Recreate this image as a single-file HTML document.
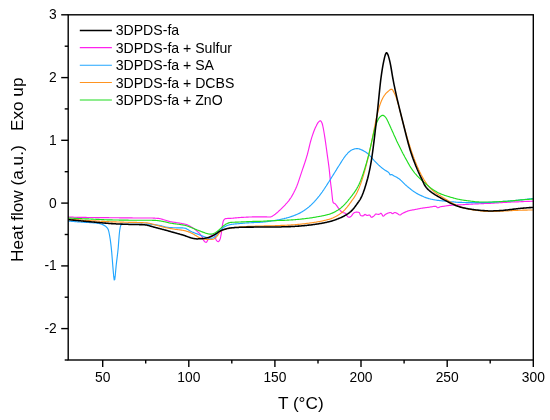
<!DOCTYPE html>
<html><head><meta charset="utf-8"><title>DSC heat flow</title>
<style>
html,body{margin:0;padding:0;background:#fff;}
svg{display:block;}
text{font-family:"Liberation Sans",sans-serif;fill:#000;}
.tk{font-size:13.8px;}
.lg{font-size:14.1px;}
.ax{font-size:17.2px;}
</style></head><body>
<svg width="550" height="420" viewBox="0 0 550 420">
<rect width="550" height="420" fill="#fff"/>


<g fill="none" stroke-linejoin="round" stroke-linecap="butt" >
<path d="M68.2,217.0 68.7,217.0 69.2,217.0 69.7,217.0 70.2,217.1 70.7,217.1 71.2,217.1 71.7,217.1 72.2,217.1 72.7,217.1 73.2,217.1 73.7,217.2 74.2,217.2 74.7,217.2 75.2,217.2 75.7,217.2 76.2,217.2 76.7,217.2 77.2,217.3 77.7,217.3 78.2,217.3 78.7,217.3 79.2,217.3 79.7,217.3 80.2,217.3 80.7,217.3 81.2,217.3 81.7,217.4 82.2,217.4 82.7,217.4 83.2,217.4 83.7,217.4 84.2,217.4 84.7,217.4 85.2,217.4 85.7,217.4 86.2,217.4 86.7,217.5 87.2,217.5 87.7,217.5 88.2,217.5 88.7,217.5 89.2,217.5 89.7,217.5 90.2,217.5 90.7,217.5 91.2,217.5 91.7,217.5 92.2,217.5 92.7,217.5 93.2,217.5 93.7,217.5 94.2,217.5 94.7,217.5 95.2,217.6 95.7,217.6 96.2,217.6 96.7,217.6 97.2,217.6 97.7,217.6 98.2,217.6 98.7,217.6 99.2,217.6 99.7,217.6 100.2,217.6 100.7,217.6 101.2,217.6 101.7,217.6 102.2,217.6 102.7,217.6 103.2,217.6 103.7,217.6 104.2,217.6 104.7,217.6 105.2,217.6 105.7,217.6 106.2,217.6 106.7,217.6 107.2,217.6 107.7,217.6 108.2,217.6 108.7,217.6 109.2,217.7 109.7,217.7 110.2,217.7 110.7,217.7 111.2,217.7 111.7,217.7 112.2,217.7 112.7,217.7 113.2,217.7 113.7,217.7 114.2,217.7 114.7,217.7 115.2,217.7 115.7,217.7 116.2,217.7 116.7,217.7 117.2,217.7 117.7,217.7 118.2,217.7 118.7,217.7 119.2,217.8 119.7,217.8 120.2,217.8 120.7,217.8 121.2,217.8 121.7,217.8 122.2,217.8 122.7,217.8 123.2,217.8 123.7,217.8 124.2,217.8 124.7,217.8 125.2,217.8 125.7,217.9 126.2,217.9 126.7,217.9 127.2,217.9 127.7,217.9 128.2,217.9 128.7,217.9 129.2,217.9 129.7,217.9 130.2,217.9 130.7,217.9 131.2,217.9 131.7,217.9 132.2,217.9 132.7,218.0 133.2,218.0 133.7,218.0 134.2,218.0 134.7,218.0 135.2,218.0 135.7,218.0 136.2,218.0 136.7,218.0 137.2,218.0 137.7,218.0 138.2,218.0 138.7,218.0 139.2,218.0 139.7,218.0 140.2,218.0 140.7,218.0 141.2,218.0 141.7,218.0 142.2,218.0 142.7,218.0 143.2,218.0 143.7,218.0 144.2,218.0 144.7,218.0 145.2,218.0 145.7,218.0 146.2,218.0 146.7,218.0 147.2,218.0 147.7,218.0 148.2,218.0 148.7,218.0 149.2,218.0 149.7,218.0 150.2,218.0 150.7,218.0 151.2,218.0 151.7,218.0 152.2,218.0 152.7,218.0 153.2,218.1 153.7,218.1 154.2,218.1 154.7,218.1 155.2,218.2 155.7,218.2 156.2,218.2 156.7,218.3 157.2,218.3 157.7,218.4 158.2,218.4 158.7,218.4 159.2,218.5 159.7,218.6 160.2,218.7 160.7,218.8 161.2,219.0 161.7,219.1 162.2,219.3 162.7,219.4 163.2,219.6 163.7,219.7 164.2,219.9 164.7,220.0 165.2,220.2 165.7,220.3 166.2,220.5 166.7,220.6 167.2,220.8 167.7,221.0 168.2,221.1 168.7,221.3 169.2,221.4 169.7,221.5 170.2,221.6 170.7,221.7 171.2,221.8 171.7,221.9 172.2,222.0 172.7,222.1 173.2,222.1 173.7,222.2 174.2,222.3 174.7,222.4 175.2,222.4 175.7,222.5 176.2,222.6 176.7,222.7 177.2,222.7 177.7,222.8 178.2,222.9 178.7,223.0 179.2,223.1 179.7,223.1 180.2,223.2 180.7,223.3 181.2,223.4 181.7,223.5 182.2,223.6 182.7,223.7 183.2,223.8 183.7,223.9 184.2,224.0 184.7,224.1 185.2,224.2 185.7,224.3 186.2,224.5 186.7,224.6 187.2,224.8 187.7,225.0 188.2,225.3 188.7,225.5 189.2,225.8 189.7,226.1 190.2,226.3 190.7,226.6 191.2,226.9 191.7,227.2 192.2,227.5 192.7,227.8 193.2,228.2 193.7,228.5 194.2,228.9 194.7,229.3 195.2,229.6 195.7,230.0 196.2,230.4 196.7,230.8 197.2,231.3 197.7,231.7 198.2,232.1 198.7,232.6 199.2,233.1 199.7,233.7 200.2,234.2 200.7,234.9 201.2,235.7 201.7,236.4 202.2,237.3 202.7,238.4 203.2,239.4 203.7,240.4 204.2,241.2 204.7,241.7 205.2,242.0 205.7,242.3 206.2,242.4 206.7,242.0 207.2,241.1 207.7,240.1 208.2,239.3 208.7,238.4 209.2,237.6 209.7,236.9 210.2,236.4 210.7,236.0 211.2,235.6 211.7,235.3 212.2,235.1 212.7,235.0 213.2,235.1 213.7,235.4 214.2,235.8 214.7,236.4 215.2,237.1 215.7,238.6 216.2,240.0 216.7,240.7 217.2,241.2 217.7,241.5 218.2,241.6 218.7,241.4 219.2,240.8 219.7,240.1 220.2,238.9 220.7,236.7 221.2,234.0 221.7,230.9 222.2,226.7 222.7,223.6 223.2,221.3 223.7,220.2 224.2,219.6 224.7,219.1 225.2,218.8 225.7,218.6 226.2,218.6 226.7,218.5 227.2,218.5 227.7,218.4 228.2,218.4 228.7,218.4 229.2,218.3 229.7,218.3 230.2,218.3 230.7,218.3 231.2,218.3 231.7,218.2 232.2,218.2 232.7,218.2 233.2,218.1 233.7,218.1 234.2,218.0 234.7,218.0 235.2,217.9 235.7,217.9 236.2,217.8 236.7,217.8 237.2,217.7 237.7,217.7 238.2,217.6 238.7,217.6 239.2,217.6 239.7,217.5 240.2,217.5 240.7,217.5 241.2,217.4 241.7,217.4 242.2,217.4 242.7,217.3 243.2,217.3 243.7,217.3 244.2,217.2 244.7,217.2 245.2,217.2 245.7,217.2 246.2,217.1 246.7,217.1 247.2,217.1 247.7,217.1 248.2,217.1 248.7,217.0 249.2,217.0 249.7,217.0 250.2,217.0 250.7,217.0 251.2,217.0 251.7,217.0 252.2,216.9 252.7,216.9 253.2,216.9 253.7,216.9 254.2,216.9 254.7,216.9 255.2,216.9 255.7,216.8 256.2,216.8 256.7,216.8 257.2,216.8 257.7,216.8 258.2,216.8 258.7,216.8 259.2,216.8 259.7,216.8 260.2,216.8 260.7,216.8 261.2,216.8 261.7,216.8 262.2,216.8 262.7,216.8 263.2,216.8 263.7,216.9 264.2,216.9 264.7,216.9 265.2,216.9 265.7,216.9 266.2,216.9 266.7,216.9 267.2,217.0 267.7,217.0 268.2,217.0 268.7,217.0 269.2,217.0 269.7,217.0 270.2,217.0 270.7,216.9 271.2,216.7 271.7,216.5 272.2,216.2 272.7,215.9 273.2,215.5 273.7,215.2 274.2,214.9 274.7,214.5 275.2,214.2 275.7,213.8 276.2,213.4 276.7,213.0 277.2,212.5 277.7,212.1 278.2,211.7 278.7,211.2 279.2,210.7 279.7,210.3 280.2,209.8 280.7,209.4 281.2,208.9 281.7,208.4 282.2,207.9 282.7,207.4 283.2,206.9 283.7,206.4 284.2,205.9 284.7,205.3 285.2,204.8 285.7,204.2 286.2,203.7 286.7,203.1 287.2,202.6 287.7,202.0 288.2,201.4 288.7,200.8 289.2,200.1 289.7,199.4 290.2,198.7 290.7,198.0 291.2,197.2 291.7,196.4 292.2,195.5 292.7,194.6 293.2,193.7 293.7,192.8 294.2,191.8 294.7,190.8 295.2,189.7 295.7,188.7 296.2,187.5 296.7,186.4 297.2,185.1 297.7,183.8 298.2,182.4 298.7,180.9 299.2,179.4 299.7,177.9 300.2,176.4 300.7,174.9 301.2,173.4 301.7,171.9 302.2,170.4 302.7,168.9 303.2,167.5 303.7,166.0 304.2,164.5 304.7,163.1 305.2,161.5 305.7,160.0 306.2,158.4 306.7,156.7 307.2,155.0 307.7,153.1 308.2,151.2 308.7,149.1 309.2,147.0 309.7,144.9 310.2,142.9 310.7,141.0 311.2,139.3 311.7,137.7 312.2,136.1 312.7,134.6 313.2,133.2 313.7,131.8 314.2,130.5 314.7,129.2 315.2,128.1 315.7,127.0 316.2,126.0 316.7,124.9 317.2,124.0 317.7,123.1 318.2,122.4 318.7,121.9 319.2,121.4 319.7,121.0 320.2,120.8 320.7,120.9 321.2,121.5 321.7,122.4 322.2,123.5 322.7,125.5 323.2,127.8 323.7,130.5 324.2,133.5 324.7,136.7 325.2,139.9 325.7,143.4 326.2,147.0 326.7,150.7 327.2,154.3 327.7,157.9 328.2,161.4 328.7,165.1 329.2,169.1 329.7,173.9 330.2,179.1 330.7,183.7 331.2,187.6 331.7,191.8 332.2,196.5 332.7,200.9 333.2,202.6 333.7,203.1 334.2,203.3 334.7,203.5 335.2,203.8 335.7,204.3 336.2,205.0 336.7,205.7 337.2,206.4 337.7,207.1 338.2,207.8 338.7,208.6 339.2,209.2 339.7,209.8 340.2,210.4 340.7,211.0 341.2,211.5 341.7,212.0 342.2,212.3 342.7,212.6 343.2,212.7 343.7,212.8 344.2,212.9 344.7,213.0 345.2,213.2 345.7,213.6 346.2,214.5 346.7,215.4 347.2,216.0 347.7,216.5 348.2,217.0 348.7,217.2 349.2,217.3 349.7,217.1 350.2,216.9 350.7,216.6 351.2,216.2 351.7,215.7 352.2,214.9 352.7,214.1 353.2,213.5 353.7,213.1 354.2,212.8 354.7,212.5 355.2,212.3 355.7,212.2 356.2,212.1 356.7,212.1 357.2,212.1 357.7,212.2 358.2,212.3 358.7,212.4 359.2,212.5 359.7,213.4 360.2,214.9 360.7,215.5 361.2,215.7 361.7,215.8 362.2,215.8 362.7,215.9 363.2,215.9 363.7,215.5 364.2,215.0 364.7,214.5 365.2,214.4 365.7,214.7 366.2,215.0 366.7,215.4 367.2,215.5 367.7,215.4 368.2,215.3 368.7,215.1 369.2,215.0 369.7,215.1 370.2,215.7 370.7,216.6 371.2,217.2 371.7,217.3 372.2,217.1 372.7,216.9 373.2,216.5 373.7,216.2 374.2,215.7 374.7,215.1 375.2,214.4 375.7,214.0 376.2,214.0 376.7,214.1 377.2,214.2 377.7,214.3 378.2,214.4 378.7,214.4 379.2,214.3 379.7,214.0 380.2,213.6 380.7,213.4 381.2,213.4 381.7,214.0 382.2,214.9 382.7,215.8 383.2,216.2 383.7,216.0 384.2,215.6 384.7,215.0 385.2,214.5 385.7,214.2 386.2,213.9 386.7,213.7 387.2,213.4 387.7,213.2 388.2,213.0 388.7,212.9 389.2,212.7 389.7,212.6 390.2,212.5 390.7,212.5 391.2,212.8 391.7,213.2 392.2,213.5 392.7,213.6 393.2,213.4 393.7,213.1 394.2,212.7 394.7,212.5 395.2,212.5 395.7,212.7 396.2,212.9 396.7,213.2 397.2,213.4 397.7,213.7 398.2,214.1 398.7,214.5 399.2,214.8 399.7,215.0 400.2,215.0 400.7,214.7 401.2,214.3 401.7,213.9 402.2,213.6 402.7,213.3 403.2,213.1 403.7,212.8 404.2,212.6 404.7,212.4 405.2,212.1 405.7,211.9 406.2,211.7 406.7,211.5 407.2,211.3 407.7,211.1 408.2,210.9 408.7,210.8 409.2,210.7 409.7,210.5 410.2,210.4 410.7,210.3 411.2,210.2 411.7,210.1 412.2,210.0 412.7,209.9 413.2,209.8 413.7,209.8 414.2,209.7 414.7,209.6 415.2,209.5 415.7,209.4 416.2,209.3 416.7,209.2 417.2,209.1 417.7,209.0 418.2,208.9 418.7,208.8 419.2,208.7 419.7,208.6 420.2,208.5 420.7,208.4 421.2,208.3 421.7,208.2 422.2,208.1 422.7,208.1 423.2,208.0 423.7,207.9 424.2,207.8 424.7,207.8 425.2,207.7 425.7,207.6 426.2,207.6 426.7,207.5 427.2,207.5 427.7,207.4 428.2,207.3 428.7,207.3 429.2,207.2 429.7,207.1 430.2,207.0 430.7,206.9 431.2,206.8 431.7,206.8 432.2,206.7 432.7,206.6 433.2,206.5 433.7,206.4 434.2,206.4 434.7,206.3 435.2,206.3 435.7,206.3 436.2,206.6 436.7,207.0 437.2,207.4 437.7,207.7 438.2,207.7 438.7,207.5 439.2,207.3 439.7,207.1 440.2,206.8 440.7,206.7 441.2,206.6 441.7,206.5 442.2,206.5 442.7,206.4 443.2,206.4 443.7,206.3 444.2,206.2 444.7,206.1 445.2,206.0 445.7,206.0 446.2,205.9 446.7,205.8 447.2,205.7 447.7,205.6 448.2,205.6 448.7,205.5 449.2,205.4 449.7,205.4 450.2,205.3 450.7,205.3 451.2,205.3 451.7,205.2 452.2,205.2 452.7,205.1 453.2,205.1 453.7,205.1 454.2,205.1 454.7,205.0 455.2,205.0 455.7,205.0 456.2,205.0 456.7,204.9 457.2,204.9 457.7,204.9 458.2,204.9 458.7,204.9 459.2,204.8 459.7,204.8 460.2,204.8 460.7,204.8 461.2,204.7 461.7,204.7 462.2,204.7 462.7,204.7 463.2,204.6 463.7,204.6 464.2,204.6 464.7,204.5 465.2,204.5 465.7,204.5 466.2,204.4 466.7,204.4 467.2,204.4 467.7,204.3 468.2,204.3 468.7,204.3 469.2,204.2 469.7,204.2 470.2,204.2 470.7,204.2 471.2,204.1 471.7,204.1 472.2,204.1 472.7,204.1 473.2,204.0 473.7,204.0 474.2,204.0 474.7,204.0 475.2,203.9 475.7,203.9 476.2,203.9 476.7,203.9 477.2,203.8 477.7,203.8 478.2,203.8 478.7,203.8 479.2,203.7 479.7,203.7 480.2,203.7 480.7,203.7 481.2,203.6 481.7,203.6 482.2,203.6 482.7,203.6 483.2,203.6 483.7,203.6 484.2,203.5 484.7,203.5 485.2,203.5 485.7,203.5 486.2,203.5 486.7,203.4 487.2,203.4 487.7,203.4 488.2,203.4 488.7,203.4 489.2,203.3 489.7,203.3 490.2,203.3 490.7,203.3 491.2,203.2 491.7,203.2 492.2,203.2 492.7,203.2 493.2,203.1 493.7,203.1 494.2,203.1 494.7,203.0 495.2,203.0 495.7,203.0 496.2,202.9 496.7,202.9 497.2,202.9 497.7,202.8 498.2,202.8 498.7,202.8 499.2,202.7 499.7,202.7 500.2,202.7 500.7,202.7 501.2,202.6 501.7,202.6 502.2,202.6 502.7,202.5 503.2,202.5 503.7,202.5 504.2,202.4 504.7,202.4 505.2,202.4 505.7,202.3 506.2,202.3 506.7,202.3 507.2,202.3 507.7,202.2 508.2,202.2 508.7,202.2 509.2,202.1 509.7,202.1 510.2,202.1 510.7,202.1 511.2,202.0 511.7,202.0 512.2,202.0 512.7,202.0 513.2,202.0 513.7,201.9 514.2,201.9 514.7,201.9 515.2,201.9 515.7,201.9 516.2,201.8 516.7,201.8 517.2,201.8 517.7,201.8 518.2,201.8 518.7,201.8 519.2,201.7 519.7,201.7 520.2,201.7 520.7,201.7 521.2,201.6 521.7,201.6 522.2,201.6 522.7,201.6 523.2,201.6 523.7,201.5 524.2,201.5 524.7,201.5 525.2,201.5 525.7,201.5 526.2,201.4 526.7,201.4 527.2,201.4 527.7,201.4 528.2,201.3 528.7,201.3 529.2,201.3 529.7,201.3 530.2,201.2 530.7,201.2 531.2,201.2 531.7,201.2 532.2,201.2 532.7,201.1 533.2,201.1 533.3,201.1" stroke="#ff22ee" stroke-width="1.15"/>
<path d="M68.2,221.1 68.7,221.1 69.2,221.1 69.7,221.2 70.2,221.2 70.7,221.2 71.2,221.3 71.7,221.3 72.2,221.4 72.7,221.4 73.2,221.5 73.7,221.5 74.2,221.5 74.7,221.6 75.2,221.6 75.7,221.7 76.2,221.7 76.7,221.7 77.2,221.8 77.7,221.8 78.2,221.9 78.7,221.9 79.2,221.9 79.7,222.0 80.2,222.0 80.7,222.0 81.2,222.1 81.7,222.1 82.2,222.1 82.7,222.2 83.2,222.2 83.7,222.2 84.2,222.3 84.7,222.3 85.2,222.3 85.7,222.3 86.2,222.4 86.7,222.4 87.2,222.4 87.7,222.4 88.2,222.5 88.7,222.5 89.2,222.5 89.7,222.6 90.2,222.6 90.7,222.6 91.2,222.6 91.7,222.7 92.2,222.7 92.7,222.8 93.2,222.8 93.7,222.8 94.2,222.9 94.7,222.9 95.2,223.0 95.7,223.0 96.2,223.1 96.7,223.1 97.2,223.2 97.7,223.3 98.2,223.3 98.7,223.4 99.2,223.5 99.7,223.6 100.2,223.7 100.7,223.9 101.2,224.0 101.7,224.2 102.2,224.4 102.7,224.6 103.2,224.9 103.7,225.1 104.2,225.4 104.7,225.7 105.2,226.0 105.7,226.4 106.2,226.8 106.7,227.3 107.2,227.8 107.7,228.5 108.2,229.5 108.7,231.2 109.2,233.5 109.7,236.1 110.2,239.2 110.7,242.9 111.2,247.1 111.7,252.1 112.2,258.3 112.7,264.6 113.2,270.6 113.7,276.2 114.2,279.9 114.7,279.6 115.2,276.2 115.7,270.5 116.2,265.1 116.7,260.9 117.2,256.9 117.7,252.8 118.2,248.0 118.7,241.4 119.2,235.0 119.7,230.3 120.2,227.4 120.7,225.4 121.2,224.8 121.7,224.5 122.2,224.3 122.7,224.3 123.2,224.2 123.7,224.2 124.2,224.2 124.7,224.2 125.2,224.2 125.7,224.2 126.2,224.2 126.7,224.3 127.2,224.3 127.7,224.3 128.2,224.3 128.7,224.3 129.2,224.3 129.7,224.3 130.2,224.3 130.7,224.3 131.2,224.3 131.7,224.3 132.2,224.3 132.7,224.3 133.2,224.3 133.7,224.3 134.2,224.3 134.7,224.3 135.2,224.3 135.7,224.3 136.2,224.3 136.7,224.3 137.2,224.3 137.7,224.3 138.2,224.3 138.7,224.3 139.2,224.3 139.7,224.3 140.2,224.3 140.7,224.3 141.2,224.3 141.7,224.2 142.2,224.2 142.7,224.2 143.2,224.2 143.7,224.1 144.2,224.1 144.7,224.1 145.2,224.1 145.7,224.1 146.2,224.0 146.7,224.0 147.2,224.1 147.7,224.1 148.2,224.1 148.7,224.1 149.2,224.1 149.7,224.2 150.2,224.2 150.7,224.3 151.2,224.3 151.7,224.4 152.2,224.4 152.7,224.5 153.2,224.5 153.7,224.6 154.2,224.6 154.7,224.7 155.2,224.8 155.7,224.8 156.2,224.9 156.7,225.0 157.2,225.0 157.7,225.1 158.2,225.2 158.7,225.3 159.2,225.4 159.7,225.5 160.2,225.6 160.7,225.7 161.2,225.8 161.7,225.9 162.2,226.1 162.7,226.2 163.2,226.3 163.7,226.5 164.2,226.6 164.7,226.7 165.2,226.9 165.7,227.0 166.2,227.1 166.7,227.2 167.2,227.3 167.7,227.4 168.2,227.4 168.7,227.5 169.2,227.5 169.7,227.5 170.2,227.6 170.7,227.6 171.2,227.6 171.7,227.6 172.2,227.6 172.7,227.7 173.2,227.7 173.7,227.7 174.2,227.7 174.7,227.7 175.2,227.7 175.7,227.7 176.2,227.8 176.7,227.8 177.2,227.8 177.7,227.8 178.2,227.8 178.7,227.8 179.2,227.8 179.7,227.8 180.2,227.9 180.7,227.9 181.2,227.9 181.7,227.9 182.2,227.9 182.7,227.9 183.2,228.0 183.7,228.0 184.2,228.1 184.7,228.2 185.2,228.3 185.7,228.4 186.2,228.6 186.7,228.9 187.2,229.2 187.7,229.5 188.2,229.8 188.7,230.1 189.2,230.4 189.7,230.7 190.2,231.0 190.7,231.3 191.2,231.5 191.7,231.7 192.2,232.0 192.7,232.2 193.2,232.4 193.7,232.6 194.2,232.8 194.7,233.0 195.2,233.2 195.7,233.4 196.2,233.6 196.7,233.8 197.2,233.9 197.7,234.1 198.2,234.3 198.7,234.5 199.2,234.7 199.7,234.9 200.2,235.1 200.7,235.3 201.2,235.5 201.7,235.7 202.2,235.9 202.7,236.1 203.2,236.3 203.7,236.5 204.2,236.7 204.7,236.8 205.2,237.0 205.7,237.2 206.2,237.3 206.7,237.5 207.2,237.6 207.7,237.7 208.2,237.9 208.7,238.0 209.2,238.1 209.7,238.2 210.2,238.2 210.7,238.3 211.2,238.3 211.7,238.2 212.2,238.2 212.7,238.0 213.2,237.8 213.7,237.6 214.2,237.3 214.7,236.9 215.2,236.4 215.7,235.9 216.2,235.4 216.7,234.8 217.2,234.1 217.7,233.5 218.2,232.9 218.7,232.2 219.2,231.6 219.7,231.0 220.2,230.5 220.7,229.9 221.2,229.4 221.7,229.0 222.2,228.5 222.7,228.1 223.2,227.7 223.7,227.4 224.2,227.0 224.7,226.7 225.2,226.4 225.7,226.2 226.2,225.9 226.7,225.7 227.2,225.5 227.7,225.3 228.2,225.2 228.7,225.0 229.2,224.9 229.7,224.7 230.2,224.6 230.7,224.5 231.2,224.4 231.7,224.4 232.2,224.3 232.7,224.2 233.2,224.1 233.7,224.1 234.2,224.0 234.7,224.0 235.2,223.9 235.7,223.9 236.2,223.8 236.7,223.8 237.2,223.7 237.7,223.7 238.2,223.7 238.7,223.6 239.2,223.6 239.7,223.5 240.2,223.5 240.7,223.4 241.2,223.4 241.7,223.3 242.2,223.3 242.7,223.3 243.2,223.2 243.7,223.2 244.2,223.1 244.7,223.1 245.2,223.0 245.7,223.0 246.2,223.0 246.7,222.9 247.2,222.9 247.7,222.9 248.2,222.8 248.7,222.8 249.2,222.8 249.7,222.7 250.2,222.7 250.7,222.7 251.2,222.7 251.7,222.6 252.2,222.6 252.7,222.6 253.2,222.6 253.7,222.6 254.2,222.5 254.7,222.5 255.2,222.5 255.7,222.5 256.2,222.5 256.7,222.4 257.2,222.4 257.7,222.4 258.2,222.4 258.7,222.4 259.2,222.3 259.7,222.3 260.2,222.3 260.7,222.2 261.2,222.2 261.7,222.2 262.2,222.1 262.7,222.1 263.2,222.0 263.7,222.0 264.2,221.9 264.7,221.9 265.2,221.8 265.7,221.8 266.2,221.7 266.7,221.6 267.2,221.6 267.7,221.5 268.2,221.4 268.7,221.4 269.2,221.3 269.7,221.2 270.2,221.2 270.7,221.1 271.2,221.0 271.7,221.0 272.2,220.9 272.7,220.8 273.2,220.7 273.7,220.6 274.2,220.6 274.7,220.5 275.2,220.4 275.7,220.3 276.2,220.2 276.7,220.1 277.2,220.0 277.7,219.9 278.2,219.8 278.7,219.8 279.2,219.7 279.7,219.6 280.2,219.5 280.7,219.3 281.2,219.2 281.7,219.1 282.2,219.0 282.7,218.9 283.2,218.8 283.7,218.7 284.2,218.6 284.7,218.4 285.2,218.3 285.7,218.2 286.2,218.1 286.7,217.9 287.2,217.8 287.7,217.7 288.2,217.5 288.7,217.4 289.2,217.2 289.7,217.1 290.2,216.9 290.7,216.8 291.2,216.6 291.7,216.4 292.2,216.3 292.7,216.1 293.2,215.9 293.7,215.7 294.2,215.5 294.7,215.3 295.2,215.1 295.7,214.9 296.2,214.7 296.7,214.5 297.2,214.3 297.7,214.1 298.2,213.8 298.7,213.6 299.2,213.4 299.7,213.1 300.2,212.9 300.7,212.6 301.2,212.3 301.7,212.0 302.2,211.7 302.7,211.4 303.2,211.1 303.7,210.8 304.2,210.4 304.7,210.1 305.2,209.7 305.7,209.4 306.2,209.0 306.7,208.6 307.2,208.3 307.7,207.9 308.2,207.5 308.7,207.1 309.2,206.6 309.7,206.2 310.2,205.8 310.7,205.3 311.2,204.9 311.7,204.4 312.2,203.9 312.7,203.4 313.2,202.9 313.7,202.4 314.2,201.8 314.7,201.3 315.2,200.7 315.7,200.2 316.2,199.6 316.7,199.0 317.2,198.4 317.7,197.8 318.2,197.2 318.7,196.6 319.2,196.0 319.7,195.3 320.2,194.7 320.7,194.0 321.2,193.3 321.7,192.7 322.2,192.0 322.7,191.2 323.2,190.5 323.7,189.8 324.2,189.0 324.7,188.3 325.2,187.5 325.7,186.7 326.2,186.0 326.7,185.2 327.2,184.4 327.7,183.6 328.2,182.8 328.7,182.0 329.2,181.3 329.7,180.5 330.2,179.7 330.7,178.9 331.2,178.1 331.7,177.3 332.2,176.5 332.7,175.7 333.2,174.9 333.7,174.1 334.2,173.3 334.7,172.5 335.2,171.7 335.7,170.9 336.2,170.1 336.7,169.2 337.2,168.4 337.7,167.6 338.2,166.8 338.7,166.0 339.2,165.3 339.7,164.5 340.2,163.7 340.7,162.9 341.2,162.1 341.7,161.3 342.2,160.5 342.7,159.7 343.2,159.0 343.7,158.2 344.2,157.5 344.7,156.8 345.2,156.1 345.7,155.5 346.2,154.9 346.7,154.3 347.2,153.8 347.7,153.2 348.2,152.7 348.7,152.2 349.2,151.8 349.7,151.4 350.2,151.0 350.7,150.6 351.2,150.3 351.7,150.0 352.2,149.8 352.7,149.5 353.2,149.4 353.7,149.2 354.2,149.0 354.7,148.9 355.2,148.8 355.7,148.7 356.2,148.6 356.7,148.6 357.2,148.6 357.7,148.6 358.2,148.7 358.7,148.8 359.2,148.9 359.7,149.1 360.2,149.2 360.7,149.4 361.2,149.7 361.7,149.9 362.2,150.1 362.7,150.4 363.2,150.6 363.7,150.9 364.2,151.2 364.7,151.5 365.2,151.8 365.7,152.1 366.2,152.4 366.7,152.8 367.2,153.2 367.7,153.6 368.2,154.0 368.7,154.5 369.2,155.0 369.7,155.5 370.2,156.1 370.7,156.6 371.2,157.2 371.7,157.7 372.2,158.3 372.7,158.9 373.2,159.4 373.7,160.0 374.2,160.6 374.7,161.1 375.2,161.6 375.7,162.1 376.2,162.6 376.7,163.1 377.2,163.6 377.7,164.1 378.2,164.6 378.7,165.1 379.2,165.5 379.7,166.0 380.2,166.4 380.7,166.9 381.2,167.3 381.7,167.7 382.2,168.1 382.7,168.5 383.2,168.9 383.7,169.3 384.2,169.6 384.7,170.0 385.2,170.3 385.7,170.6 386.2,170.9 386.7,171.1 387.2,171.4 387.7,171.7 388.2,172.1 388.7,172.5 389.2,173.3 389.7,174.1 390.2,174.9 390.7,174.8 391.2,174.6 391.7,174.5 392.2,174.7 392.7,175.1 393.2,175.4 393.7,175.7 394.2,176.0 394.7,176.2 395.2,176.5 395.7,176.7 396.2,177.0 396.7,177.3 397.2,177.6 397.7,177.9 398.2,178.2 398.7,178.5 399.2,178.9 399.7,179.3 400.2,179.7 400.7,180.2 401.2,180.6 401.7,181.1 402.2,181.6 402.7,182.1 403.2,182.6 403.7,183.1 404.2,183.6 404.7,184.1 405.2,184.6 405.7,185.0 406.2,185.5 406.7,185.9 407.2,186.4 407.7,186.8 408.2,187.2 408.7,187.6 409.2,188.0 409.7,188.4 410.2,188.8 410.7,189.2 411.2,189.6 411.7,190.0 412.2,190.4 412.7,190.7 413.2,191.1 413.7,191.5 414.2,191.8 414.7,192.1 415.2,192.4 415.7,192.8 416.2,193.1 416.7,193.4 417.2,193.6 417.7,193.9 418.2,194.2 418.7,194.4 419.2,194.7 419.7,194.9 420.2,195.2 420.7,195.4 421.2,195.6 421.7,195.9 422.2,196.1 422.7,196.3 423.2,196.5 423.7,196.7 424.2,197.0 424.7,197.2 425.2,197.4 425.7,197.6 426.2,197.7 426.7,197.9 427.2,198.1 427.7,198.3 428.2,198.4 428.7,198.6 429.2,198.7 429.7,198.8 430.2,199.0 430.7,199.1 431.2,199.2 431.7,199.3 432.2,199.4 432.7,199.5 433.2,199.6 433.7,199.7 434.2,199.8 434.7,199.9 435.2,200.0 435.7,200.0 436.2,200.1 436.7,200.2 437.2,200.3 437.7,200.3 438.2,200.4 438.7,200.4 439.2,200.5 439.7,200.6 440.2,200.6 440.7,200.7 441.2,200.7 441.7,200.8 442.2,200.8 442.7,200.9 443.2,200.9 443.7,201.0 444.2,201.0 444.7,201.1 445.2,201.1 445.7,201.2 446.2,201.2 446.7,201.3 447.2,201.3 447.7,201.4 448.2,201.4 448.7,201.5 449.2,201.5 449.7,201.6 450.2,201.6 450.7,201.7 451.2,201.7 451.7,201.8 452.2,201.8 452.7,201.9 453.2,201.9 453.7,201.9 454.2,202.0 454.7,202.0 455.2,202.1 455.7,202.1 456.2,202.2 456.7,202.2 457.2,202.2 457.7,202.3 458.2,202.3 458.7,202.3 459.2,202.4 459.7,202.4 460.2,202.4 460.7,202.4 461.2,202.4 461.7,202.4 462.2,202.5 462.7,202.5 463.2,202.5 463.7,202.5 464.2,202.5 464.7,202.5 465.2,202.5 465.7,202.6 466.2,202.6 466.7,202.6 467.2,202.6 467.7,202.6 468.2,202.6 468.7,202.6 469.2,202.6 469.7,202.6 470.2,202.6 470.7,202.6 471.2,202.6 471.7,202.6 472.2,202.6 472.7,202.6 473.2,202.6 473.7,202.6 474.2,202.6 474.7,202.6 475.2,202.6 475.7,202.6 476.2,202.6 476.7,202.6 477.2,202.6 477.7,202.6 478.2,202.6 478.7,202.6 479.2,202.6 479.7,202.6 480.2,202.6 480.7,202.6 481.2,202.6 481.7,202.6 482.2,202.6 482.7,202.6 483.2,202.6 483.7,202.6 484.2,202.6 484.7,202.5 485.2,202.5 485.7,202.5 486.2,202.5 486.7,202.5 487.2,202.5 487.7,202.5 488.2,202.5 488.7,202.4 489.2,202.4 489.7,202.4 490.2,202.4 490.7,202.4 491.2,202.3 491.7,202.3 492.2,202.3 492.7,202.2 493.2,202.2 493.7,202.2 494.2,202.1 494.7,202.1 495.2,202.0 495.7,202.0 496.2,201.9 496.7,201.9 497.2,201.8 497.7,201.8 498.2,201.8 498.7,201.7 499.2,201.7 499.7,201.6 500.2,201.6 500.7,201.6 501.2,201.5 501.7,201.5 502.2,201.5 502.7,201.4 503.2,201.4 503.7,201.4 504.2,201.4 504.7,201.3 505.2,201.3 505.7,201.3 506.2,201.2 506.7,201.2 507.2,201.2 507.7,201.1 508.2,201.1 508.7,201.1 509.2,201.0 509.7,201.0 510.2,201.0 510.7,200.9 511.2,200.9 511.7,200.9 512.2,200.8 512.7,200.8 513.2,200.7 513.7,200.7 514.2,200.6 514.7,200.6 515.2,200.5 515.7,200.5 516.2,200.4 516.7,200.4 517.2,200.3 517.7,200.3 518.2,200.2 518.7,200.1 519.2,200.1 519.7,200.0 520.2,200.0 520.7,199.9 521.2,199.9 521.7,199.8 522.2,199.8 522.7,199.7 523.2,199.6 523.7,199.6 524.2,199.5 524.7,199.5 525.2,199.4 525.7,199.3 526.2,199.3 526.7,199.2 527.2,199.2 527.7,199.1 528.2,199.0 528.7,199.0 529.2,198.9 529.7,198.9 530.2,198.8 530.7,198.7 531.2,198.7 531.7,198.6 532.2,198.6 532.7,198.5 533.2,198.5 533.3,198.5" stroke="#22a6ff" stroke-width="1.15"/>
<path d="M68.2,219.1 68.7,219.1 69.2,219.1 69.7,219.1 70.2,219.2 70.7,219.2 71.2,219.2 71.7,219.3 72.2,219.3 72.7,219.4 73.2,219.4 73.7,219.4 74.2,219.5 74.7,219.5 75.2,219.6 75.7,219.6 76.2,219.6 76.7,219.7 77.2,219.7 77.7,219.8 78.2,219.8 78.7,219.8 79.2,219.9 79.7,219.9 80.2,219.9 80.7,220.0 81.2,220.0 81.7,220.0 82.2,220.1 82.7,220.1 83.2,220.2 83.7,220.2 84.2,220.2 84.7,220.3 85.2,220.3 85.7,220.3 86.2,220.4 86.7,220.4 87.2,220.4 87.7,220.5 88.2,220.5 88.7,220.5 89.2,220.5 89.7,220.6 90.2,220.6 90.7,220.6 91.2,220.7 91.7,220.7 92.2,220.7 92.7,220.8 93.2,220.8 93.7,220.8 94.2,220.9 94.7,220.9 95.2,220.9 95.7,220.9 96.2,221.0 96.7,221.0 97.2,221.0 97.7,221.1 98.2,221.1 98.7,221.1 99.2,221.1 99.7,221.2 100.2,221.2 100.7,221.2 101.2,221.3 101.7,221.3 102.2,221.3 102.7,221.3 103.2,221.4 103.7,221.4 104.2,221.4 104.7,221.4 105.2,221.5 105.7,221.5 106.2,221.5 106.7,221.5 107.2,221.6 107.7,221.6 108.2,221.6 108.7,221.6 109.2,221.7 109.7,221.7 110.2,221.7 110.7,221.7 111.2,221.8 111.7,221.8 112.2,221.8 112.7,221.8 113.2,221.8 113.7,221.9 114.2,221.9 114.7,221.9 115.2,221.9 115.7,221.9 116.2,221.9 116.7,222.0 117.2,222.0 117.7,222.0 118.2,222.0 118.7,222.0 119.2,222.0 119.7,222.0 120.2,222.1 120.7,222.1 121.2,222.1 121.7,222.1 122.2,222.1 122.7,222.1 123.2,222.1 123.7,222.1 124.2,222.2 124.7,222.2 125.2,222.2 125.7,222.2 126.2,222.2 126.7,222.2 127.2,222.2 127.7,222.2 128.2,222.3 128.7,222.3 129.2,222.3 129.7,222.3 130.2,222.3 130.7,222.3 131.2,222.3 131.7,222.3 132.2,222.4 132.7,222.4 133.2,222.4 133.7,222.4 134.2,222.4 134.7,222.4 135.2,222.4 135.7,222.4 136.2,222.4 136.7,222.4 137.2,222.5 137.7,222.5 138.2,222.5 138.7,222.5 139.2,222.5 139.7,222.5 140.2,222.5 140.7,222.5 141.2,222.6 141.7,222.6 142.2,222.6 142.7,222.6 143.2,222.6 143.7,222.7 144.2,222.7 144.7,222.7 145.2,222.7 145.7,222.8 146.2,222.8 146.7,222.9 147.2,222.9 147.7,223.0 148.2,223.1 148.7,223.2 149.2,223.3 149.7,223.4 150.2,223.5 150.7,223.6 151.2,223.8 151.7,223.9 152.2,224.0 152.7,224.2 153.2,224.3 153.7,224.4 154.2,224.6 154.7,224.7 155.2,224.8 155.7,225.0 156.2,225.1 156.7,225.2 157.2,225.4 157.7,225.5 158.2,225.6 158.7,225.8 159.2,225.9 159.7,226.1 160.2,226.2 160.7,226.3 161.2,226.5 161.7,226.6 162.2,226.7 162.7,226.9 163.2,227.0 163.7,227.1 164.2,227.3 164.7,227.4 165.2,227.5 165.7,227.6 166.2,227.7 166.7,227.8 167.2,227.9 167.7,228.0 168.2,228.1 168.7,228.2 169.2,228.3 169.7,228.4 170.2,228.5 170.7,228.6 171.2,228.6 171.7,228.7 172.2,228.8 172.7,228.9 173.2,229.0 173.7,229.0 174.2,229.1 174.7,229.2 175.2,229.3 175.7,229.3 176.2,229.4 176.7,229.5 177.2,229.5 177.7,229.6 178.2,229.7 178.7,229.7 179.2,229.8 179.7,229.9 180.2,229.9 180.7,230.0 181.2,230.1 181.7,230.1 182.2,230.2 182.7,230.3 183.2,230.4 183.7,230.5 184.2,230.6 184.7,230.7 185.2,230.8 185.7,230.9 186.2,231.1 186.7,231.2 187.2,231.4 187.7,231.5 188.2,231.7 188.7,231.9 189.2,232.1 189.7,232.3 190.2,232.5 190.7,232.8 191.2,233.0 191.7,233.2 192.2,233.5 192.7,233.8 193.2,234.0 193.7,234.3 194.2,234.6 194.7,234.9 195.2,235.2 195.7,235.5 196.2,235.8 196.7,236.1 197.2,236.4 197.7,236.7 198.2,237.0 198.7,237.3 199.2,237.5 199.7,237.7 200.2,238.0 200.7,238.1 201.2,238.3 201.7,238.5 202.2,238.6 202.7,238.7 203.2,238.8 203.7,238.9 204.2,239.0 204.7,239.1 205.2,239.2 205.7,239.3 206.2,239.3 206.7,239.4 207.2,239.4 207.7,239.5 208.2,239.5 208.7,239.5 209.2,239.5 209.7,239.5 210.2,239.5 210.7,239.5 211.2,239.5 211.7,239.4 212.2,239.4 212.7,239.3 213.2,239.2 213.7,239.0 214.2,238.8 214.7,238.5 215.2,238.2 215.7,237.7 216.2,237.2 216.7,236.7 217.2,236.0 217.7,235.3 218.2,234.6 218.7,233.8 219.2,233.1 219.7,232.5 220.2,231.9 220.7,231.4 221.2,230.9 221.7,230.6 222.2,230.2 222.7,230.0 223.2,229.7 223.7,229.5 224.2,229.3 224.7,229.2 225.2,229.0 225.7,228.9 226.2,228.7 226.7,228.6 227.2,228.5 227.7,228.4 228.2,228.3 228.7,228.2 229.2,228.1 229.7,228.1 230.2,228.0 230.7,227.9 231.2,227.9 231.7,227.8 232.2,227.7 232.7,227.7 233.2,227.6 233.7,227.6 234.2,227.5 234.7,227.5 235.2,227.4 235.7,227.4 236.2,227.3 236.7,227.3 237.2,227.2 237.7,227.2 238.2,227.2 238.7,227.1 239.2,227.1 239.7,227.0 240.2,227.0 240.7,226.9 241.2,226.9 241.7,226.9 242.2,226.8 242.7,226.8 243.2,226.7 243.7,226.7 244.2,226.7 244.7,226.6 245.2,226.6 245.7,226.6 246.2,226.5 246.7,226.5 247.2,226.5 247.7,226.4 248.2,226.4 248.7,226.4 249.2,226.3 249.7,226.3 250.2,226.3 250.7,226.3 251.2,226.3 251.7,226.2 252.2,226.2 252.7,226.2 253.2,226.2 253.7,226.2 254.2,226.2 254.7,226.2 255.2,226.1 255.7,226.1 256.2,226.1 256.7,226.1 257.2,226.1 257.7,226.1 258.2,226.1 258.7,226.1 259.2,226.0 259.7,226.0 260.2,226.0 260.7,226.0 261.2,226.0 261.7,226.0 262.2,226.0 262.7,226.0 263.2,226.0 263.7,226.0 264.2,225.9 264.7,225.9 265.2,225.9 265.7,225.9 266.2,225.9 266.7,225.9 267.2,225.9 267.7,225.9 268.2,225.8 268.7,225.8 269.2,225.8 269.7,225.8 270.2,225.8 270.7,225.8 271.2,225.8 271.7,225.7 272.2,225.7 272.7,225.7 273.2,225.7 273.7,225.7 274.2,225.7 274.7,225.7 275.2,225.6 275.7,225.6 276.2,225.6 276.7,225.6 277.2,225.6 277.7,225.5 278.2,225.5 278.7,225.5 279.2,225.5 279.7,225.5 280.2,225.5 280.7,225.4 281.2,225.4 281.7,225.4 282.2,225.4 282.7,225.4 283.2,225.3 283.7,225.3 284.2,225.3 284.7,225.3 285.2,225.2 285.7,225.2 286.2,225.2 286.7,225.2 287.2,225.1 287.7,225.1 288.2,225.1 288.7,225.1 289.2,225.0 289.7,225.0 290.2,225.0 290.7,225.0 291.2,224.9 291.7,224.9 292.2,224.9 292.7,224.8 293.2,224.8 293.7,224.7 294.2,224.7 294.7,224.7 295.2,224.6 295.7,224.6 296.2,224.5 296.7,224.5 297.2,224.5 297.7,224.4 298.2,224.4 298.7,224.3 299.2,224.3 299.7,224.2 300.2,224.2 300.7,224.1 301.2,224.1 301.7,224.0 302.2,224.0 302.7,223.9 303.2,223.8 303.7,223.8 304.2,223.7 304.7,223.7 305.2,223.6 305.7,223.5 306.2,223.5 306.7,223.4 307.2,223.4 307.7,223.3 308.2,223.2 308.7,223.2 309.2,223.1 309.7,223.0 310.2,223.0 310.7,222.9 311.2,222.8 311.7,222.8 312.2,222.7 312.7,222.6 313.2,222.5 313.7,222.5 314.2,222.4 314.7,222.3 315.2,222.2 315.7,222.2 316.2,222.1 316.7,222.0 317.2,221.9 317.7,221.8 318.2,221.7 318.7,221.6 319.2,221.6 319.7,221.5 320.2,221.4 320.7,221.3 321.2,221.2 321.7,221.1 322.2,221.0 322.7,220.9 323.2,220.7 323.7,220.6 324.2,220.5 324.7,220.4 325.2,220.3 325.7,220.2 326.2,220.0 326.7,219.9 327.2,219.8 327.7,219.6 328.2,219.5 328.7,219.4 329.2,219.2 329.7,219.1 330.2,218.9 330.7,218.7 331.2,218.6 331.7,218.4 332.2,218.2 332.7,218.0 333.2,217.8 333.7,217.5 334.2,217.3 334.7,217.1 335.2,216.8 335.7,216.5 336.2,216.3 336.7,216.0 337.2,215.7 337.7,215.4 338.2,215.1 338.7,214.8 339.2,214.5 339.7,214.1 340.2,213.8 340.7,213.4 341.2,213.0 341.7,212.6 342.2,212.2 342.7,211.8 343.2,211.3 343.7,210.8 344.2,210.3 344.7,209.8 345.2,209.3 345.7,208.7 346.2,208.2 346.7,207.6 347.2,207.0 347.7,206.4 348.2,205.7 348.7,205.1 349.2,204.4 349.7,203.7 350.2,203.0 350.7,202.3 351.2,201.6 351.7,200.9 352.2,200.2 352.7,199.5 353.2,198.8 353.7,198.1 354.2,197.4 354.7,196.6 355.2,195.8 355.7,195.0 356.2,194.1 356.7,193.1 357.2,192.2 357.7,191.1 358.2,190.0 358.7,188.9 359.2,187.7 359.7,186.4 360.2,185.1 360.7,183.7 361.2,182.3 361.7,180.8 362.2,179.3 362.7,177.7 363.2,176.1 363.7,174.4 364.2,172.7 364.7,170.9 365.2,169.1 365.7,167.2 366.2,165.3 366.7,163.4 367.2,161.4 367.7,159.4 368.2,157.3 368.7,155.2 369.2,153.1 369.7,150.9 370.2,148.6 370.7,146.3 371.2,144.0 371.7,141.6 372.2,139.1 372.7,136.6 373.2,134.1 373.7,131.5 374.2,128.9 374.7,126.4 375.2,123.8 375.7,121.3 376.2,118.9 376.7,116.6 377.2,114.5 377.7,112.5 378.2,110.6 378.7,108.8 379.2,107.1 379.7,105.5 380.2,104.1 380.7,102.7 381.2,101.4 381.7,100.3 382.2,99.2 382.7,98.2 383.2,97.3 383.7,96.5 384.2,95.7 384.7,95.0 385.2,94.4 385.7,93.7 386.2,93.2 386.7,92.7 387.2,92.2 387.7,91.8 388.2,91.3 388.7,90.9 389.2,90.4 389.7,90.0 390.2,89.7 390.7,89.4 391.2,89.2 391.7,89.3 392.2,89.6 392.7,90.0 393.2,90.9 393.7,91.9 394.2,92.8 394.7,93.8 395.2,94.9 395.7,96.1 396.2,97.5 396.7,99.0 397.2,100.6 397.7,102.3 398.2,104.1 398.7,105.9 399.2,107.8 399.7,109.8 400.2,111.7 400.7,113.7 401.2,115.6 401.7,117.6 402.2,119.5 402.7,121.4 403.2,123.3 403.7,125.2 404.2,127.0 404.7,128.8 405.2,130.6 405.7,132.4 406.2,134.2 406.7,135.9 407.2,137.7 407.7,139.3 408.2,141.0 408.7,142.6 409.2,144.3 409.7,145.8 410.2,147.4 410.7,148.9 411.2,150.4 411.7,151.9 412.2,153.4 412.7,154.8 413.2,156.2 413.7,157.5 414.2,158.9 414.7,160.2 415.2,161.5 415.7,162.7 416.2,163.9 416.7,165.1 417.2,166.3 417.7,167.4 418.2,168.6 418.7,169.7 419.2,170.7 419.7,171.8 420.2,172.8 420.7,173.8 421.2,174.8 421.7,175.7 422.2,176.6 422.7,177.5 423.2,178.4 423.7,179.3 424.2,180.1 424.7,180.9 425.2,181.7 425.7,182.4 426.2,183.2 426.7,183.9 427.2,184.5 427.7,185.2 428.2,185.8 428.7,186.4 429.2,187.0 429.7,187.6 430.2,188.1 430.7,188.6 431.2,189.1 431.7,189.6 432.2,190.1 432.7,190.5 433.2,190.9 433.7,191.3 434.2,191.7 434.7,192.1 435.2,192.5 435.7,192.8 436.2,193.2 436.7,193.5 437.2,193.9 437.7,194.2 438.2,194.5 438.7,194.9 439.2,195.2 439.7,195.5 440.2,195.8 440.7,196.1 441.2,196.5 441.7,196.8 442.2,197.1 442.7,197.4 443.2,197.7 443.7,198.0 444.2,198.3 444.7,198.6 445.2,198.9 445.7,199.2 446.2,199.5 446.7,199.8 447.2,200.1 447.7,200.4 448.2,200.7 448.7,201.0 449.2,201.3 449.7,201.6 450.2,201.9 450.7,202.2 451.2,202.4 451.7,202.7 452.2,203.0 452.7,203.3 453.2,203.5 453.7,203.8 454.2,204.1 454.7,204.3 455.2,204.6 455.7,204.8 456.2,205.1 456.7,205.3 457.2,205.5 457.7,205.7 458.2,206.0 458.7,206.2 459.2,206.4 459.7,206.6 460.2,206.7 460.7,206.9 461.2,207.1 461.7,207.2 462.2,207.4 462.7,207.6 463.2,207.7 463.7,207.9 464.2,208.0 464.7,208.1 465.2,208.3 465.7,208.4 466.2,208.5 466.7,208.7 467.2,208.8 467.7,208.9 468.2,209.0 468.7,209.1 469.2,209.2 469.7,209.3 470.2,209.4 470.7,209.5 471.2,209.6 471.7,209.7 472.2,209.8 472.7,209.8 473.2,209.9 473.7,210.0 474.2,210.1 474.7,210.1 475.2,210.2 475.7,210.3 476.2,210.3 476.7,210.4 477.2,210.5 477.7,210.5 478.2,210.6 478.7,210.6 479.2,210.7 479.7,210.8 480.2,210.8 480.7,210.9 481.2,211.0 481.7,211.0 482.2,211.1 482.7,211.1 483.2,211.2 483.7,211.2 484.2,211.3 484.7,211.3 485.2,211.3 485.7,211.4 486.2,211.4 486.7,211.4 487.2,211.4 487.7,211.4 488.2,211.4 488.7,211.4 489.2,211.4 489.7,211.4 490.2,211.4 490.7,211.4 491.2,211.4 491.7,211.4 492.2,211.3 492.7,211.3 493.2,211.3 493.7,211.3 494.2,211.3 494.7,211.3 495.2,211.3 495.7,211.3 496.2,211.3 496.7,211.3 497.2,211.3 497.7,211.2 498.2,211.2 498.7,211.2 499.2,211.2 499.7,211.2 500.2,211.2 500.7,211.2 501.2,211.2 501.7,211.1 502.2,211.1 502.7,211.1 503.2,211.1 503.7,211.0 504.2,211.0 504.7,211.0 505.2,211.0 505.7,210.9 506.2,210.9 506.7,210.9 507.2,210.9 507.7,210.8 508.2,210.8 508.7,210.8 509.2,210.7 509.7,210.7 510.2,210.7 510.7,210.7 511.2,210.6 511.7,210.6 512.2,210.6 512.7,210.5 513.2,210.5 513.7,210.5 514.2,210.5 514.7,210.4 515.2,210.4 515.7,210.4 516.2,210.4 516.7,210.3 517.2,210.3 517.7,210.3 518.2,210.3 518.7,210.2 519.2,210.2 519.7,210.2 520.2,210.2 520.7,210.2 521.2,210.2 521.7,210.2 522.2,210.2 522.7,210.1 523.2,210.1 523.7,210.1 524.2,210.1 524.7,210.1 525.2,210.1 525.7,210.1 526.2,210.1 526.7,210.1 527.2,210.1 527.7,210.0 528.2,210.0 528.7,210.0 529.2,210.0 529.7,210.0 530.2,210.0 530.7,210.0 531.2,210.0 531.7,210.0 532.2,210.0 532.7,210.0 533.2,210.0 533.3,210.0" stroke="#ff9420" stroke-width="1.15"/>
<path d="M68.2,218.0 68.7,218.0 69.2,218.1 69.7,218.1 70.2,218.1 70.7,218.1 71.2,218.1 71.7,218.2 72.2,218.2 72.7,218.2 73.2,218.2 73.7,218.3 74.2,218.3 74.7,218.3 75.2,218.3 75.7,218.4 76.2,218.4 76.7,218.4 77.2,218.4 77.7,218.5 78.2,218.5 78.7,218.5 79.2,218.5 79.7,218.5 80.2,218.6 80.7,218.6 81.2,218.6 81.7,218.6 82.2,218.7 82.7,218.7 83.2,218.7 83.7,218.7 84.2,218.7 84.7,218.8 85.2,218.8 85.7,218.8 86.2,218.8 86.7,218.9 87.2,218.9 87.7,218.9 88.2,218.9 88.7,218.9 89.2,219.0 89.7,219.0 90.2,219.0 90.7,219.0 91.2,219.1 91.7,219.1 92.2,219.1 92.7,219.1 93.2,219.1 93.7,219.2 94.2,219.2 94.7,219.2 95.2,219.2 95.7,219.3 96.2,219.3 96.7,219.3 97.2,219.3 97.7,219.4 98.2,219.4 98.7,219.4 99.2,219.4 99.7,219.5 100.2,219.5 100.7,219.5 101.2,219.5 101.7,219.6 102.2,219.6 102.7,219.6 103.2,219.6 103.7,219.6 104.2,219.7 104.7,219.7 105.2,219.7 105.7,219.7 106.2,219.7 106.7,219.8 107.2,219.8 107.7,219.8 108.2,219.8 108.7,219.8 109.2,219.9 109.7,219.9 110.2,219.9 110.7,219.9 111.2,219.9 111.7,219.9 112.2,219.9 112.7,220.0 113.2,220.0 113.7,220.0 114.2,220.0 114.7,220.0 115.2,220.0 115.7,220.0 116.2,220.0 116.7,220.0 117.2,220.0 117.7,220.0 118.2,220.0 118.7,220.0 119.2,220.1 119.7,220.1 120.2,220.1 120.7,220.1 121.2,220.1 121.7,220.1 122.2,220.1 122.7,220.1 123.2,220.1 123.7,220.1 124.2,220.1 124.7,220.1 125.2,220.1 125.7,220.1 126.2,220.1 126.7,220.1 127.2,220.1 127.7,220.1 128.2,220.1 128.7,220.2 129.2,220.2 129.7,220.2 130.2,220.2 130.7,220.2 131.2,220.2 131.7,220.2 132.2,220.2 132.7,220.2 133.2,220.2 133.7,220.2 134.2,220.2 134.7,220.2 135.2,220.2 135.7,220.2 136.2,220.2 136.7,220.2 137.2,220.2 137.7,220.2 138.2,220.2 138.7,220.2 139.2,220.2 139.7,220.2 140.2,220.2 140.7,220.2 141.2,220.2 141.7,220.2 142.2,220.2 142.7,220.2 143.2,220.2 143.7,220.2 144.2,220.2 144.7,220.2 145.2,220.2 145.7,220.2 146.2,220.2 146.7,220.2 147.2,220.2 147.7,220.2 148.2,220.2 148.7,220.2 149.2,220.2 149.7,220.2 150.2,220.2 150.7,220.2 151.2,220.2 151.7,220.2 152.2,220.3 152.7,220.3 153.2,220.3 153.7,220.3 154.2,220.3 154.7,220.4 155.2,220.4 155.7,220.4 156.2,220.5 156.7,220.5 157.2,220.5 157.7,220.6 158.2,220.6 158.7,220.7 159.2,220.8 159.7,220.8 160.2,220.9 160.7,221.0 161.2,221.1 161.7,221.2 162.2,221.3 162.7,221.4 163.2,221.5 163.7,221.6 164.2,221.7 164.7,221.8 165.2,221.9 165.7,222.0 166.2,222.1 166.7,222.3 167.2,222.4 167.7,222.5 168.2,222.6 168.7,222.7 169.2,222.9 169.7,223.0 170.2,223.1 170.7,223.2 171.2,223.2 171.7,223.3 172.2,223.4 172.7,223.5 173.2,223.6 173.7,223.6 174.2,223.7 174.7,223.8 175.2,223.8 175.7,223.9 176.2,224.0 176.7,224.0 177.2,224.1 177.7,224.2 178.2,224.2 178.7,224.3 179.2,224.4 179.7,224.5 180.2,224.5 180.7,224.6 181.2,224.7 181.7,224.8 182.2,224.8 182.7,224.9 183.2,225.0 183.7,225.1 184.2,225.2 184.7,225.3 185.2,225.4 185.7,225.5 186.2,225.7 186.7,225.8 187.2,226.0 187.7,226.2 188.2,226.3 188.7,226.5 189.2,226.7 189.7,226.9 190.2,227.1 190.7,227.3 191.2,227.5 191.7,227.7 192.2,227.9 192.7,228.1 193.2,228.3 193.7,228.5 194.2,228.7 194.7,228.9 195.2,229.2 195.7,229.4 196.2,229.6 196.7,229.8 197.2,230.0 197.7,230.2 198.2,230.3 198.7,230.5 199.2,230.7 199.7,230.9 200.2,231.1 200.7,231.3 201.2,231.5 201.7,231.7 202.2,231.9 202.7,232.1 203.2,232.3 203.7,232.4 204.2,232.6 204.7,232.8 205.2,233.0 205.7,233.2 206.2,233.3 206.7,233.5 207.2,233.6 207.7,233.8 208.2,233.9 208.7,234.0 209.2,234.0 209.7,234.1 210.2,234.1 210.7,234.1 211.2,234.1 211.7,234.0 212.2,234.0 212.7,233.9 213.2,233.7 213.7,233.5 214.2,233.3 214.7,233.1 215.2,232.8 215.7,232.5 216.2,232.1 216.7,231.8 217.2,231.4 217.7,231.0 218.2,230.6 218.7,230.2 219.2,229.7 219.7,229.3 220.2,228.8 220.7,228.3 221.2,227.9 221.7,227.4 222.2,227.0 222.7,226.5 223.2,226.1 223.7,225.7 224.2,225.3 224.7,225.0 225.2,224.6 225.7,224.3 226.2,224.0 226.7,223.8 227.2,223.5 227.7,223.3 228.2,223.1 228.7,222.9 229.2,222.7 229.7,222.6 230.2,222.5 230.7,222.4 231.2,222.4 231.7,222.3 232.2,222.3 232.7,222.2 233.2,222.2 233.7,222.2 234.2,222.2 234.7,222.2 235.2,222.1 235.7,222.1 236.2,222.1 236.7,222.1 237.2,222.1 237.7,222.1 238.2,222.1 238.7,222.0 239.2,222.0 239.7,222.0 240.2,222.0 240.7,222.0 241.2,221.9 241.7,221.9 242.2,221.9 242.7,221.9 243.2,221.8 243.7,221.8 244.2,221.8 244.7,221.7 245.2,221.7 245.7,221.7 246.2,221.7 246.7,221.6 247.2,221.6 247.7,221.6 248.2,221.6 248.7,221.6 249.2,221.5 249.7,221.5 250.2,221.5 250.7,221.5 251.2,221.5 251.7,221.5 252.2,221.5 252.7,221.4 253.2,221.4 253.7,221.4 254.2,221.4 254.7,221.4 255.2,221.4 255.7,221.4 256.2,221.4 256.7,221.4 257.2,221.4 257.7,221.4 258.2,221.3 258.7,221.3 259.2,221.3 259.7,221.3 260.2,221.3 260.7,221.3 261.2,221.3 261.7,221.2 262.2,221.2 262.7,221.2 263.2,221.2 263.7,221.1 264.2,221.1 264.7,221.1 265.2,221.1 265.7,221.0 266.2,221.0 266.7,221.0 267.2,220.9 267.7,220.9 268.2,220.9 268.7,220.9 269.2,220.8 269.7,220.8 270.2,220.8 270.7,220.8 271.2,220.8 271.7,220.7 272.2,220.7 272.7,220.7 273.2,220.7 273.7,220.7 274.2,220.6 274.7,220.6 275.2,220.6 275.7,220.6 276.2,220.6 276.7,220.5 277.2,220.5 277.7,220.5 278.2,220.5 278.7,220.5 279.2,220.5 279.7,220.4 280.2,220.4 280.7,220.4 281.2,220.4 281.7,220.4 282.2,220.4 282.7,220.3 283.2,220.3 283.7,220.3 284.2,220.3 284.7,220.3 285.2,220.2 285.7,220.2 286.2,220.2 286.7,220.2 287.2,220.1 287.7,220.1 288.2,220.1 288.7,220.1 289.2,220.0 289.7,220.0 290.2,220.0 290.7,220.0 291.2,219.9 291.7,219.9 292.2,219.9 292.7,219.8 293.2,219.8 293.7,219.7 294.2,219.7 294.7,219.7 295.2,219.6 295.7,219.6 296.2,219.5 296.7,219.5 297.2,219.5 297.7,219.4 298.2,219.4 298.7,219.3 299.2,219.3 299.7,219.2 300.2,219.2 300.7,219.1 301.2,219.1 301.7,219.0 302.2,218.9 302.7,218.9 303.2,218.8 303.7,218.8 304.2,218.7 304.7,218.7 305.2,218.6 305.7,218.5 306.2,218.5 306.7,218.4 307.2,218.4 307.7,218.3 308.2,218.2 308.7,218.2 309.2,218.1 309.7,218.0 310.2,218.0 310.7,217.9 311.2,217.8 311.7,217.8 312.2,217.7 312.7,217.6 313.2,217.5 313.7,217.4 314.2,217.4 314.7,217.3 315.2,217.2 315.7,217.1 316.2,217.0 316.7,216.9 317.2,216.8 317.7,216.7 318.2,216.6 318.7,216.5 319.2,216.5 319.7,216.4 320.2,216.3 320.7,216.2 321.2,216.1 321.7,216.0 322.2,215.9 322.7,215.8 323.2,215.7 323.7,215.6 324.2,215.5 324.7,215.4 325.2,215.2 325.7,215.1 326.2,215.0 326.7,214.9 327.2,214.8 327.7,214.6 328.2,214.5 328.7,214.4 329.2,214.2 329.7,214.1 330.2,213.9 330.7,213.7 331.2,213.5 331.7,213.3 332.2,213.1 332.7,212.9 333.2,212.7 333.7,212.4 334.2,212.2 334.7,211.9 335.2,211.7 335.7,211.4 336.2,211.1 336.7,210.8 337.2,210.5 337.7,210.2 338.2,209.9 338.7,209.5 339.2,209.2 339.7,208.8 340.2,208.5 340.7,208.1 341.2,207.7 341.7,207.2 342.2,206.8 342.7,206.3 343.2,205.9 343.7,205.4 344.2,204.9 344.7,204.3 345.2,203.8 345.7,203.3 346.2,202.7 346.7,202.1 347.2,201.6 347.7,201.0 348.2,200.4 348.7,199.7 349.2,199.1 349.7,198.5 350.2,197.8 350.7,197.2 351.2,196.6 351.7,195.9 352.2,195.3 352.7,194.6 353.2,193.9 353.7,193.3 354.2,192.6 354.7,191.9 355.2,191.2 355.7,190.4 356.2,189.6 356.7,188.8 357.2,187.9 357.7,187.0 358.2,186.0 358.7,185.0 359.2,183.9 359.7,182.8 360.2,181.6 360.7,180.4 361.2,179.1 361.7,177.8 362.2,176.4 362.7,174.9 363.2,173.5 363.7,171.9 364.2,170.4 364.7,168.8 365.2,167.2 365.7,165.5 366.2,163.9 366.7,162.2 367.2,160.4 367.7,158.6 368.2,156.7 368.7,154.8 369.2,152.7 369.7,150.6 370.2,148.4 370.7,146.2 371.2,143.9 371.7,141.6 372.2,139.3 372.7,137.1 373.2,134.9 373.7,132.8 374.2,130.9 374.7,129.0 375.2,127.3 375.7,125.7 376.2,124.2 376.7,122.8 377.2,121.5 377.7,120.4 378.2,119.4 378.7,118.5 379.2,117.8 379.7,117.2 380.2,116.7 380.7,116.3 381.2,115.9 381.7,115.6 382.2,115.4 382.7,115.3 383.2,115.4 383.7,115.6 384.2,115.9 384.7,116.4 385.2,116.9 385.7,117.5 386.2,118.2 386.7,119.0 387.2,120.0 387.7,121.1 388.2,122.1 388.7,123.2 389.2,124.2 389.7,125.3 390.2,126.4 390.7,127.5 391.2,128.7 391.7,129.8 392.2,130.9 392.7,132.0 393.2,133.1 393.7,134.3 394.2,135.4 394.7,136.5 395.2,137.6 395.7,138.7 396.2,139.8 396.7,140.9 397.2,141.9 397.7,143.0 398.2,144.1 398.7,145.1 399.2,146.1 399.7,147.1 400.2,148.1 400.7,149.1 401.2,150.1 401.7,151.1 402.2,152.1 402.7,153.0 403.2,154.0 403.7,154.9 404.2,155.8 404.7,156.8 405.2,157.7 405.7,158.6 406.2,159.5 406.7,160.4 407.2,161.3 407.7,162.2 408.2,163.1 408.7,164.0 409.2,164.9 409.7,165.8 410.2,166.6 410.7,167.4 411.2,168.2 411.7,168.9 412.2,169.6 412.7,170.3 413.2,171.0 413.7,171.7 414.2,172.3 414.7,173.0 415.2,173.6 415.7,174.1 416.2,174.7 416.7,175.3 417.2,175.8 417.7,176.4 418.2,176.9 418.7,177.4 419.2,177.9 419.7,178.4 420.2,178.9 420.7,179.4 421.2,179.9 421.7,180.3 422.2,180.8 422.7,181.2 423.2,181.6 423.7,182.1 424.2,182.5 424.7,182.9 425.2,183.3 425.7,183.8 426.2,184.2 426.7,184.6 427.2,185.1 427.7,185.5 428.2,185.9 428.7,186.3 429.2,186.8 429.7,187.2 430.2,187.6 430.7,188.0 431.2,188.4 431.7,188.7 432.2,189.1 432.7,189.4 433.2,189.8 433.7,190.1 434.2,190.4 434.7,190.7 435.2,191.0 435.7,191.3 436.2,191.6 436.7,191.9 437.2,192.2 437.7,192.5 438.2,192.7 438.7,193.0 439.2,193.2 439.7,193.4 440.2,193.6 440.7,193.9 441.2,194.1 441.7,194.3 442.2,194.5 442.7,194.6 443.2,194.8 443.7,195.0 444.2,195.2 444.7,195.4 445.2,195.5 445.7,195.7 446.2,195.8 446.7,196.0 447.2,196.2 447.7,196.3 448.2,196.5 448.7,196.6 449.2,196.8 449.7,196.9 450.2,197.1 450.7,197.2 451.2,197.4 451.7,197.5 452.2,197.6 452.7,197.8 453.2,197.9 453.7,198.1 454.2,198.2 454.7,198.3 455.2,198.5 455.7,198.6 456.2,198.7 456.7,198.9 457.2,199.0 457.7,199.1 458.2,199.2 458.7,199.3 459.2,199.4 459.7,199.5 460.2,199.6 460.7,199.7 461.2,199.8 461.7,199.9 462.2,200.0 462.7,200.0 463.2,200.1 463.7,200.2 464.2,200.3 464.7,200.3 465.2,200.4 465.7,200.5 466.2,200.5 466.7,200.6 467.2,200.7 467.7,200.7 468.2,200.8 468.7,200.8 469.2,200.9 469.7,201.0 470.2,201.0 470.7,201.1 471.2,201.2 471.7,201.2 472.2,201.3 472.7,201.3 473.2,201.4 473.7,201.5 474.2,201.5 474.7,201.6 475.2,201.7 475.7,201.7 476.2,201.8 476.7,201.8 477.2,201.8 477.7,201.9 478.2,201.9 478.7,201.9 479.2,202.0 479.7,202.0 480.2,202.0 480.7,202.0 481.2,202.0 481.7,202.0 482.2,202.0 482.7,202.0 483.2,202.0 483.7,202.0 484.2,202.0 484.7,202.0 485.2,202.0 485.7,202.0 486.2,202.0 486.7,202.0 487.2,202.0 487.7,202.0 488.2,202.0 488.7,202.0 489.2,202.0 489.7,202.0 490.2,202.0 490.7,202.0 491.2,202.0 491.7,202.0 492.2,202.0 492.7,201.9 493.2,201.9 493.7,201.9 494.2,201.9 494.7,201.9 495.2,201.8 495.7,201.8 496.2,201.8 496.7,201.8 497.2,201.7 497.7,201.7 498.2,201.7 498.7,201.7 499.2,201.6 499.7,201.6 500.2,201.6 500.7,201.6 501.2,201.5 501.7,201.5 502.2,201.5 502.7,201.5 503.2,201.4 503.7,201.4 504.2,201.4 504.7,201.3 505.2,201.3 505.7,201.3 506.2,201.3 506.7,201.2 507.2,201.2 507.7,201.2 508.2,201.1 508.7,201.1 509.2,201.1 509.7,201.0 510.2,201.0 510.7,200.9 511.2,200.9 511.7,200.8 512.2,200.8 512.7,200.8 513.2,200.7 513.7,200.6 514.2,200.6 514.7,200.5 515.2,200.5 515.7,200.4 516.2,200.4 516.7,200.3 517.2,200.3 517.7,200.2 518.2,200.2 518.7,200.1 519.2,200.1 519.7,200.0 520.2,200.0 520.7,199.9 521.2,199.9 521.7,199.9 522.2,199.8 522.7,199.8 523.2,199.7 523.7,199.7 524.2,199.7 524.7,199.6 525.2,199.6 525.7,199.5 526.2,199.5 526.7,199.5 527.2,199.4 527.7,199.4 528.2,199.3 528.7,199.3 529.2,199.3 529.7,199.2 530.2,199.2 530.7,199.2 531.2,199.1 531.7,199.1 532.2,199.1 532.7,199.1 533.2,199.0 533.3,199.0" stroke="#1fdc1f" stroke-width="1.15"/>
<path d="M68.2,219.7 68.7,219.7 69.2,219.7 69.7,219.8 70.2,219.8 70.7,219.9 71.2,219.9 71.7,220.0 72.2,220.0 72.7,220.1 73.2,220.1 73.7,220.2 74.2,220.2 74.7,220.3 75.2,220.3 75.7,220.4 76.2,220.4 76.7,220.4 77.2,220.5 77.7,220.5 78.2,220.6 78.7,220.6 79.2,220.7 79.7,220.7 80.2,220.8 80.7,220.8 81.2,220.9 81.7,220.9 82.2,221.0 82.7,221.0 83.2,221.1 83.7,221.1 84.2,221.2 84.7,221.2 85.2,221.3 85.7,221.3 86.2,221.4 86.7,221.4 87.2,221.4 87.7,221.5 88.2,221.5 88.7,221.6 89.2,221.6 89.7,221.7 90.2,221.7 90.7,221.8 91.2,221.8 91.7,221.9 92.2,221.9 92.7,221.9 93.2,222.0 93.7,222.0 94.2,222.1 94.7,222.1 95.2,222.2 95.7,222.2 96.2,222.3 96.7,222.3 97.2,222.4 97.7,222.4 98.2,222.5 98.7,222.5 99.2,222.6 99.7,222.6 100.2,222.7 100.7,222.7 101.2,222.7 101.7,222.8 102.2,222.8 102.7,222.9 103.2,222.9 103.7,223.0 104.2,223.0 104.7,223.1 105.2,223.1 105.7,223.1 106.2,223.2 106.7,223.2 107.2,223.3 107.7,223.3 108.2,223.3 108.7,223.4 109.2,223.4 109.7,223.5 110.2,223.5 110.7,223.5 111.2,223.6 111.7,223.6 112.2,223.6 112.7,223.7 113.2,223.7 113.7,223.7 114.2,223.8 114.7,223.8 115.2,223.8 115.7,223.8 116.2,223.9 116.7,223.9 117.2,223.9 117.7,223.9 118.2,224.0 118.7,224.0 119.2,224.0 119.7,224.0 120.2,224.0 120.7,224.1 121.2,224.1 121.7,224.1 122.2,224.1 122.7,224.2 123.2,224.2 123.7,224.2 124.2,224.2 124.7,224.2 125.2,224.2 125.7,224.3 126.2,224.3 126.7,224.3 127.2,224.3 127.7,224.3 128.2,224.3 128.7,224.4 129.2,224.4 129.7,224.4 130.2,224.4 130.7,224.4 131.2,224.4 131.7,224.4 132.2,224.4 132.7,224.5 133.2,224.5 133.7,224.5 134.2,224.5 134.7,224.5 135.2,224.5 135.7,224.5 136.2,224.5 136.7,224.5 137.2,224.5 137.7,224.5 138.2,224.5 138.7,224.5 139.2,224.6 139.7,224.6 140.2,224.6 140.7,224.6 141.2,224.6 141.7,224.6 142.2,224.6 142.7,224.7 143.2,224.7 143.7,224.7 144.2,224.8 144.7,224.8 145.2,224.9 145.7,224.9 146.2,225.0 146.7,225.1 147.2,225.2 147.7,225.4 148.2,225.5 148.7,225.6 149.2,225.7 149.7,225.9 150.2,226.0 150.7,226.2 151.2,226.3 151.7,226.5 152.2,226.6 152.7,226.7 153.2,226.9 153.7,227.0 154.2,227.2 154.7,227.3 155.2,227.4 155.7,227.6 156.2,227.7 156.7,227.8 157.2,228.0 157.7,228.1 158.2,228.2 158.7,228.4 159.2,228.5 159.7,228.6 160.2,228.7 160.7,228.9 161.2,229.0 161.7,229.1 162.2,229.3 162.7,229.4 163.2,229.5 163.7,229.6 164.2,229.8 164.7,229.9 165.2,230.0 165.7,230.2 166.2,230.3 166.7,230.4 167.2,230.6 167.7,230.7 168.2,230.9 168.7,231.0 169.2,231.2 169.7,231.3 170.2,231.5 170.7,231.6 171.2,231.8 171.7,231.9 172.2,232.0 172.7,232.2 173.2,232.3 173.7,232.5 174.2,232.6 174.7,232.7 175.2,232.9 175.7,233.0 176.2,233.1 176.7,233.3 177.2,233.4 177.7,233.6 178.2,233.7 178.7,233.8 179.2,234.0 179.7,234.1 180.2,234.3 180.7,234.4 181.2,234.5 181.7,234.7 182.2,234.8 182.7,235.0 183.2,235.1 183.7,235.3 184.2,235.5 184.7,235.6 185.2,235.8 185.7,236.0 186.2,236.2 186.7,236.4 187.2,236.6 187.7,236.7 188.2,236.9 188.7,237.1 189.2,237.3 189.7,237.5 190.2,237.6 190.7,237.8 191.2,237.9 191.7,238.1 192.2,238.2 192.7,238.3 193.2,238.4 193.7,238.5 194.2,238.6 194.7,238.7 195.2,238.8 195.7,238.8 196.2,238.8 196.7,238.9 197.2,238.9 197.7,238.9 198.2,238.8 198.7,238.8 199.2,238.8 199.7,238.8 200.2,238.8 200.7,238.7 201.2,238.7 201.7,238.7 202.2,238.6 202.7,238.6 203.2,238.5 203.7,238.5 204.2,238.4 204.7,238.3 205.2,238.2 205.7,238.1 206.2,238.0 206.7,237.9 207.2,237.8 207.7,237.7 208.2,237.5 208.7,237.4 209.2,237.2 209.7,237.0 210.2,236.9 210.7,236.7 211.2,236.5 211.7,236.2 212.2,236.0 212.7,235.7 213.2,235.5 213.7,235.2 214.2,234.9 214.7,234.6 215.2,234.3 215.7,234.0 216.2,233.6 216.7,233.3 217.2,232.9 217.7,232.6 218.2,232.2 218.7,231.9 219.2,231.6 219.7,231.3 220.2,231.0 220.7,230.8 221.2,230.6 221.7,230.3 222.2,230.1 222.7,230.0 223.2,229.8 223.7,229.6 224.2,229.5 224.7,229.3 225.2,229.2 225.7,229.0 226.2,228.9 226.7,228.7 227.2,228.6 227.7,228.5 228.2,228.4 228.7,228.3 229.2,228.2 229.7,228.1 230.2,228.0 230.7,228.0 231.2,227.9 231.7,227.8 232.2,227.8 232.7,227.7 233.2,227.7 233.7,227.7 234.2,227.6 234.7,227.6 235.2,227.5 235.7,227.5 236.2,227.5 236.7,227.5 237.2,227.4 237.7,227.4 238.2,227.4 238.7,227.4 239.2,227.3 239.7,227.3 240.2,227.3 240.7,227.3 241.2,227.3 241.7,227.3 242.2,227.2 242.7,227.2 243.2,227.2 243.7,227.2 244.2,227.2 244.7,227.2 245.2,227.2 245.7,227.2 246.2,227.2 246.7,227.1 247.2,227.1 247.7,227.1 248.2,227.1 248.7,227.1 249.2,227.1 249.7,227.1 250.2,227.1 250.7,227.1 251.2,227.1 251.7,227.1 252.2,227.1 252.7,227.1 253.2,227.1 253.7,227.1 254.2,227.0 254.7,227.0 255.2,227.0 255.7,227.0 256.2,227.0 256.7,227.0 257.2,227.0 257.7,227.0 258.2,227.0 258.7,227.0 259.2,227.0 259.7,227.0 260.2,227.0 260.7,227.0 261.2,227.0 261.7,227.0 262.2,227.0 262.7,227.0 263.2,227.0 263.7,227.0 264.2,227.0 264.7,227.0 265.2,227.0 265.7,227.0 266.2,227.0 266.7,227.0 267.2,227.0 267.7,227.0 268.2,227.0 268.7,227.0 269.2,227.0 269.7,227.0 270.2,227.0 270.7,227.0 271.2,227.0 271.7,227.0 272.2,227.0 272.7,227.0 273.2,227.0 273.7,227.0 274.2,227.0 274.7,227.0 275.2,227.0 275.7,227.0 276.2,226.9 276.7,226.9 277.2,226.9 277.7,226.9 278.2,226.9 278.7,226.9 279.2,226.9 279.7,226.9 280.2,226.9 280.7,226.9 281.2,226.9 281.7,226.8 282.2,226.8 282.7,226.8 283.2,226.8 283.7,226.8 284.2,226.8 284.7,226.8 285.2,226.7 285.7,226.7 286.2,226.7 286.7,226.7 287.2,226.7 287.7,226.7 288.2,226.7 288.7,226.6 289.2,226.6 289.7,226.6 290.2,226.6 290.7,226.6 291.2,226.5 291.7,226.5 292.2,226.5 292.7,226.5 293.2,226.5 293.7,226.4 294.2,226.4 294.7,226.4 295.2,226.3 295.7,226.3 296.2,226.3 296.7,226.2 297.2,226.2 297.7,226.2 298.2,226.1 298.7,226.1 299.2,226.1 299.7,226.0 300.2,226.0 300.7,225.9 301.2,225.9 301.7,225.8 302.2,225.8 302.7,225.7 303.2,225.7 303.7,225.7 304.2,225.6 304.7,225.6 305.2,225.5 305.7,225.5 306.2,225.4 306.7,225.4 307.2,225.3 307.7,225.2 308.2,225.2 308.7,225.1 309.2,225.1 309.7,225.0 310.2,225.0 310.7,224.9 311.2,224.9 311.7,224.8 312.2,224.7 312.7,224.7 313.2,224.6 313.7,224.5 314.2,224.5 314.7,224.4 315.2,224.3 315.7,224.3 316.2,224.2 316.7,224.1 317.2,224.0 317.7,224.0 318.2,223.9 318.7,223.8 319.2,223.7 319.7,223.6 320.2,223.5 320.7,223.4 321.2,223.4 321.7,223.3 322.2,223.2 322.7,223.1 323.2,223.0 323.7,222.9 324.2,222.8 324.7,222.7 325.2,222.6 325.7,222.5 326.2,222.4 326.7,222.3 327.2,222.1 327.7,222.0 328.2,221.9 328.7,221.8 329.2,221.7 329.7,221.6 330.2,221.4 330.7,221.3 331.2,221.2 331.7,221.0 332.2,220.9 332.7,220.7 333.2,220.6 333.7,220.4 334.2,220.2 334.7,220.1 335.2,219.9 335.7,219.7 336.2,219.5 336.7,219.3 337.2,219.1 337.7,218.9 338.2,218.7 338.7,218.5 339.2,218.3 339.7,218.1 340.2,217.9 340.7,217.7 341.2,217.5 341.7,217.2 342.2,217.0 342.7,216.7 343.2,216.5 343.7,216.2 344.2,216.0 344.7,215.7 345.2,215.4 345.7,215.1 346.2,214.8 346.7,214.5 347.2,214.2 347.7,213.9 348.2,213.5 348.7,213.2 349.2,212.8 349.7,212.4 350.2,212.0 350.7,211.6 351.2,211.1 351.7,210.6 352.2,210.1 352.7,209.6 353.2,209.0 353.7,208.4 354.2,207.8 354.7,207.1 355.2,206.5 355.7,205.8 356.2,205.1 356.7,204.4 357.2,203.7 357.7,203.0 358.2,202.3 358.7,201.6 359.2,200.8 359.7,200.1 360.2,199.3 360.7,198.4 361.2,197.4 361.7,196.4 362.2,195.3 362.7,194.0 363.2,192.7 363.7,191.3 364.2,189.9 364.7,188.4 365.2,186.8 365.7,185.2 366.2,183.5 366.7,181.8 367.2,180.0 367.7,178.2 368.2,176.2 368.7,174.1 369.2,171.9 369.7,169.6 370.2,167.1 370.7,164.4 371.2,161.5 371.7,158.4 372.2,155.0 372.7,151.4 373.2,147.7 373.7,143.7 374.2,139.6 374.7,135.4 375.2,131.2 375.7,126.9 376.2,122.6 376.7,118.1 377.2,113.6 377.7,109.0 378.2,104.1 378.7,99.1 379.2,94.1 379.7,89.2 380.2,84.5 380.7,80.2 381.2,76.3 381.7,72.8 382.2,69.6 382.7,66.6 383.2,63.9 383.7,61.4 384.2,59.1 384.7,56.9 385.2,55.1 385.7,53.9 386.2,53.0 386.7,52.7 387.2,53.3 387.7,54.2 388.2,55.4 388.7,57.1 389.2,58.9 389.7,60.9 390.2,63.2 390.7,65.7 391.2,68.5 391.7,71.5 392.2,74.6 392.7,77.5 393.2,80.2 393.7,82.8 394.2,85.3 394.7,87.7 395.2,90.1 395.7,92.4 396.2,94.7 396.7,96.9 397.2,99.1 397.7,101.2 398.2,103.3 398.7,105.4 399.2,107.4 399.7,109.5 400.2,111.5 400.7,113.5 401.2,115.5 401.7,117.5 402.2,119.5 402.7,121.5 403.2,123.5 403.7,125.5 404.2,127.5 404.7,129.5 405.2,131.5 405.7,133.5 406.2,135.5 406.7,137.5 407.2,139.4 407.7,141.3 408.2,143.2 408.7,145.0 409.2,146.8 409.7,148.5 410.2,150.2 410.7,151.8 411.2,153.3 411.7,154.8 412.2,156.3 412.7,157.7 413.2,159.1 413.7,160.4 414.2,161.7 414.7,163.0 415.2,164.3 415.7,165.6 416.2,166.8 416.7,168.0 417.2,169.2 417.7,170.3 418.2,171.5 418.7,172.6 419.2,173.7 419.7,174.8 420.2,175.8 420.7,176.9 421.2,177.9 421.7,178.9 422.2,179.9 422.7,181.0 423.2,182.1 423.7,183.3 424.2,184.4 424.7,185.3 425.2,186.0 425.7,186.7 426.2,187.4 426.7,188.0 427.2,188.6 427.7,189.1 428.2,189.6 428.7,190.0 429.2,190.5 429.7,190.9 430.2,191.3 430.7,191.7 431.2,192.1 431.7,192.4 432.2,192.8 432.7,193.1 433.2,193.5 433.7,193.8 434.2,194.1 434.7,194.4 435.2,194.8 435.7,195.1 436.2,195.4 436.7,195.7 437.2,196.0 437.7,196.3 438.2,196.6 438.7,196.8 439.2,197.1 439.7,197.4 440.2,197.7 440.7,198.0 441.2,198.2 441.7,198.5 442.2,198.8 442.7,199.1 443.2,199.3 443.7,199.6 444.2,199.9 444.7,200.1 445.2,200.4 445.7,200.6 446.2,200.9 446.7,201.2 447.2,201.4 447.7,201.7 448.2,202.0 448.7,202.2 449.2,202.5 449.7,202.7 450.2,203.0 450.7,203.2 451.2,203.5 451.7,203.7 452.2,203.9 452.7,204.1 453.2,204.4 453.7,204.6 454.2,204.8 454.7,205.0 455.2,205.2 455.7,205.5 456.2,205.7 456.7,205.9 457.2,206.0 457.7,206.2 458.2,206.4 458.7,206.6 459.2,206.7 459.7,206.9 460.2,207.0 460.7,207.2 461.2,207.3 461.7,207.4 462.2,207.6 462.7,207.7 463.2,207.8 463.7,207.9 464.2,208.0 464.7,208.1 465.2,208.2 465.7,208.3 466.2,208.4 466.7,208.5 467.2,208.6 467.7,208.7 468.2,208.8 468.7,208.9 469.2,209.0 469.7,209.0 470.2,209.1 470.7,209.2 471.2,209.3 471.7,209.3 472.2,209.4 472.7,209.5 473.2,209.6 473.7,209.6 474.2,209.7 474.7,209.7 475.2,209.8 475.7,209.9 476.2,209.9 476.7,210.0 477.2,210.0 477.7,210.1 478.2,210.1 478.7,210.2 479.2,210.2 479.7,210.3 480.2,210.3 480.7,210.4 481.2,210.4 481.7,210.4 482.2,210.5 482.7,210.5 483.2,210.6 483.7,210.6 484.2,210.6 484.7,210.7 485.2,210.7 485.7,210.7 486.2,210.8 486.7,210.8 487.2,210.8 487.7,210.8 488.2,210.9 488.7,210.9 489.2,210.9 489.7,210.9 490.2,210.9 490.7,210.9 491.2,210.9 491.7,210.9 492.2,210.9 492.7,210.9 493.2,210.9 493.7,210.8 494.2,210.8 494.7,210.8 495.2,210.8 495.7,210.8 496.2,210.8 496.7,210.7 497.2,210.7 497.7,210.7 498.2,210.7 498.7,210.7 499.2,210.6 499.7,210.6 500.2,210.6 500.7,210.5 501.2,210.5 501.7,210.5 502.2,210.4 502.7,210.4 503.2,210.4 503.7,210.3 504.2,210.3 504.7,210.2 505.2,210.1 505.7,210.1 506.2,210.0 506.7,210.0 507.2,209.9 507.7,209.9 508.2,209.8 508.7,209.7 509.2,209.7 509.7,209.6 510.2,209.6 510.7,209.5 511.2,209.5 511.7,209.4 512.2,209.3 512.7,209.3 513.2,209.2 513.7,209.1 514.2,209.1 514.7,209.0 515.2,209.0 515.7,208.9 516.2,208.8 516.7,208.8 517.2,208.7 517.7,208.7 518.2,208.6 518.7,208.5 519.2,208.5 519.7,208.4 520.2,208.4 520.7,208.3 521.2,208.3 521.7,208.2 522.2,208.2 522.7,208.2 523.2,208.1 523.7,208.1 524.2,208.0 524.7,208.0 525.2,207.9 525.7,207.9 526.2,207.9 526.7,207.8 527.2,207.8 527.7,207.8 528.2,207.7 528.7,207.7 529.2,207.6 529.7,207.6 530.2,207.6 530.7,207.6 531.2,207.5 531.7,207.5 532.2,207.5 532.7,207.5 533.2,207.4 533.3,207.4" stroke="#000000" stroke-width="1.55"/>
</g>
<g stroke="#000" stroke-width="1.4" fill="none" stroke-linecap="butt">
<rect x="68.2" y="14.8" width="465.1" height="345.2"/>
<line x1="64.7" y1="360.0" x2="68.2" y2="360.0"/>
<line x1="61.2" y1="328.6" x2="68.2" y2="328.6"/>
<line x1="64.7" y1="297.2" x2="68.2" y2="297.2"/>
<line x1="61.2" y1="265.9" x2="68.2" y2="265.9"/>
<line x1="64.7" y1="234.5" x2="68.2" y2="234.5"/>
<line x1="61.2" y1="203.1" x2="68.2" y2="203.1"/>
<line x1="64.7" y1="171.7" x2="68.2" y2="171.7"/>
<line x1="61.2" y1="140.3" x2="68.2" y2="140.3"/>
<line x1="64.7" y1="108.9" x2="68.2" y2="108.9"/>
<line x1="61.2" y1="77.6" x2="68.2" y2="77.6"/>
<line x1="64.7" y1="46.2" x2="68.2" y2="46.2"/>
<line x1="61.2" y1="14.8" x2="68.2" y2="14.8"/>
<line x1="102.7" y1="360.0" x2="102.7" y2="367.0"/>
<line x1="145.7" y1="360.0" x2="145.7" y2="363.5"/>
<line x1="188.8" y1="360.0" x2="188.8" y2="367.0"/>
<line x1="231.8" y1="360.0" x2="231.8" y2="363.5"/>
<line x1="274.9" y1="360.0" x2="274.9" y2="367.0"/>
<line x1="318.0" y1="360.0" x2="318.0" y2="363.5"/>
<line x1="361.0" y1="360.0" x2="361.0" y2="367.0"/>
<line x1="404.1" y1="360.0" x2="404.1" y2="363.5"/>
<line x1="447.2" y1="360.0" x2="447.2" y2="367.0"/>
<line x1="490.2" y1="360.0" x2="490.2" y2="363.5"/>
<line x1="533.3" y1="360.0" x2="533.3" y2="367.0"/>
</g>
<text class="tk" x="56.7" y="333.1" text-anchor="end">-2</text>
<text class="tk" x="56.7" y="270.4" text-anchor="end">-1</text>
<text class="tk" x="56.7" y="207.6" text-anchor="end">0</text>
<text class="tk" x="56.7" y="144.8" text-anchor="end">1</text>
<text class="tk" x="56.7" y="82.1" text-anchor="end">2</text>
<text class="tk" x="56.7" y="19.3" text-anchor="end">3</text>
<text class="tk" x="102.7" y="381.9" text-anchor="middle">50</text>
<text class="tk" x="188.8" y="381.9" text-anchor="middle">100</text>
<text class="tk" x="274.9" y="381.9" text-anchor="middle">150</text>
<text class="tk" x="361.0" y="381.9" text-anchor="middle">200</text>
<text class="tk" x="447.2" y="381.9" text-anchor="middle">250</text>
<text class="tk" x="533.3" y="381.9" text-anchor="middle">300</text>
<text class="ax" x="300.8" y="409.2" text-anchor="middle">T (°C)</text>
<text class="ax" transform="translate(23.0,261.9) rotate(-90)" xml:space="preserve" style="white-space:pre">Heat flow (a.u.)   Exo up</text>
<line x1="79.8" y1="30.4" x2="111.9" y2="30.4" stroke="#000000" stroke-width="1.5"/>
<text class="lg" x="115.7" y="35.4">3DPDS-fa</text>
<line x1="79.8" y1="47.6" x2="111.9" y2="47.6" stroke="#ff22ee" stroke-width="1.15"/>
<text class="lg" x="115.7" y="52.9">3DPDS-fa + Sulfur</text>
<line x1="79.8" y1="65.2" x2="111.9" y2="65.2" stroke="#22a6ff" stroke-width="1.15"/>
<text class="lg" x="115.7" y="70.4">3DPDS-fa + SA</text>
<line x1="79.8" y1="82.5" x2="111.9" y2="82.5" stroke="#ff9420" stroke-width="1.15"/>
<text class="lg" x="115.7" y="87.9">3DPDS-fa + DCBS</text>
<line x1="79.8" y1="100.0" x2="111.9" y2="100.0" stroke="#1fdc1f" stroke-width="1.15"/>
<text class="lg" x="115.7" y="105.4">3DPDS-fa + ZnO</text>
</svg></body></html>
